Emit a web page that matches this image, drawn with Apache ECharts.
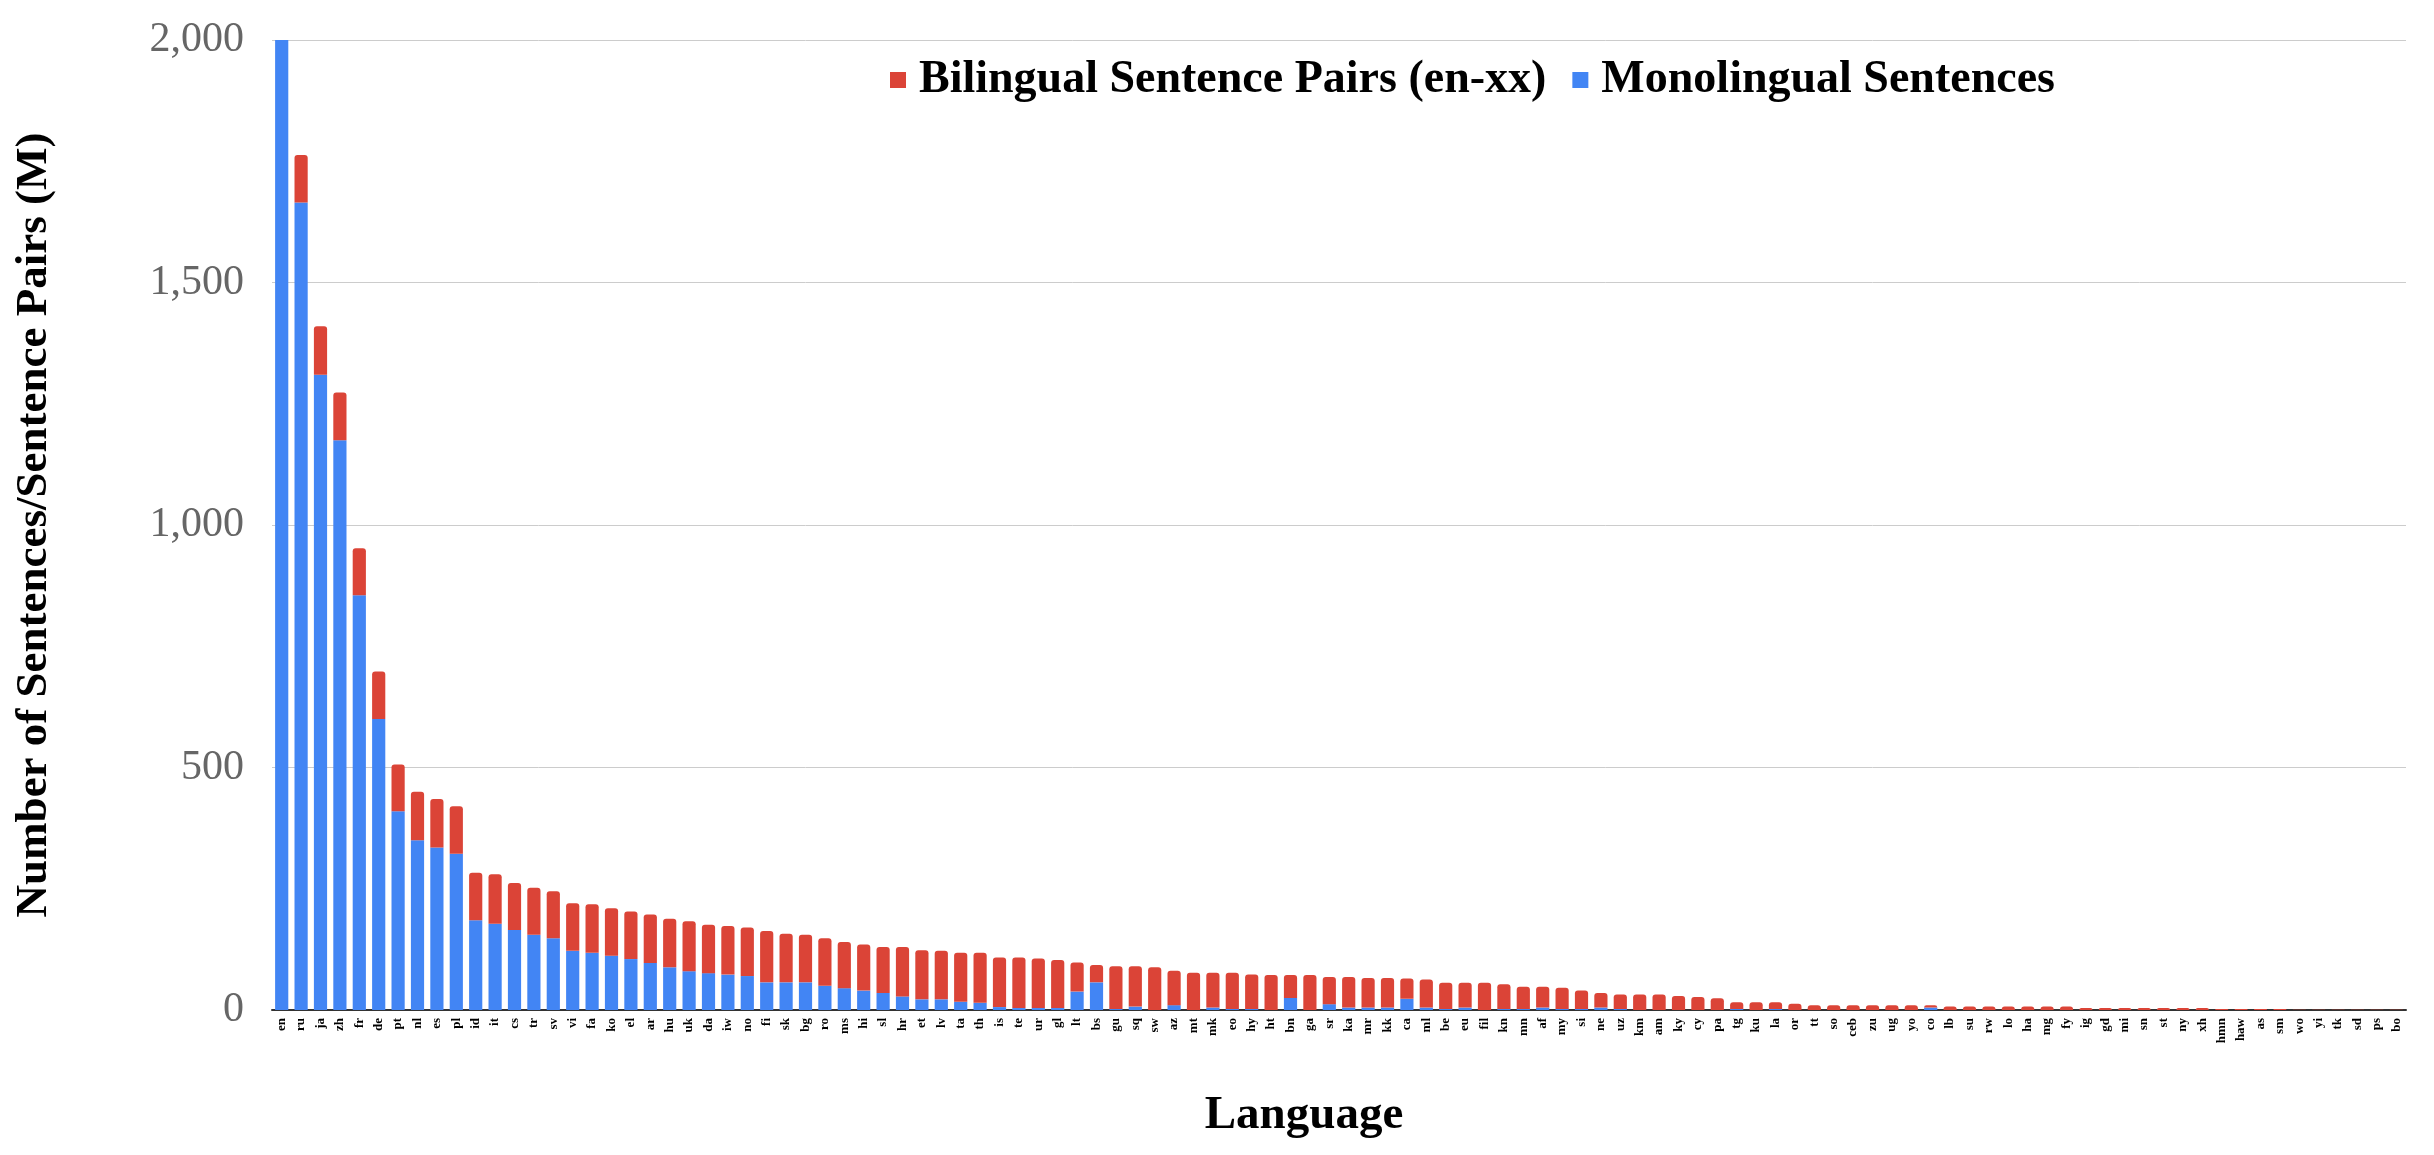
<!DOCTYPE html>
<html><head><meta charset="utf-8">
<script src="https://cdn.jsdelivr.net/npm/echarts@6/dist/echarts.min.js"></script>
<style>html,body{margin:0;padding:0;background:#fff}#c{width:2434px;height:1155px}</style>
</head><body><div id="c"></div>
<script>
const languages = ["en","ru","ja","zh","fr","de","pt","nl","es","pl","id","it","cs","tr","sv","vi","fa","ko","el","ar","hu","uk","da","iw","no","fi","sk","bg","ro","ms","hi","sl","hr","et","lv","ta","th","is","te","ur","gl","lt","bs","gu","sq","sw","az","mt","mk","eo","hy","ht","bn","ga","sr","ka","mr","kk","ca","ml","be","eu","fil","kn","mn","af","my","si","ne","uz","km","am","ky","cy","pa","tg","ku","la","or","tt","so","ceb","zu","ug","yo","co","lb","su","rw","lo","ha","mg","fy","ig","gd","mi","sn","st","ny","xh","hmn","haw","as","sm","wo","yi","tk","sd","ps","bo"];
const totals = [2060,1763,1410,1273,952,698,506,450,435,420,283,280,262,252,245,220,218,210,203,197,188,183,176,173,170,163,157,155,148,140,135,130,130,123,122,118,118,108,108,106,103,98,93,90,90,88,81,77,77,77,73,72,72,72,68,68,66,66,65,63,56,56,56,53,48,48,46,40,35,32,32,32,29,27,24,16,16,16,13,10,10,10,10,10,10,10,7,7,7,7,7,7,7,4,4,4,4,4,4,4,2,2,2,2,0.5,0.5,0.5,0.5,0.5,0.5];
const monolingual = [2000,1665,1310,1175,855,600,410,350,335,322,185,178,165,155,148,122,118,112,105,97,88,80,76,73,70,57,57,57,50,45,40,35,28,22,22,17,15,6,4,4,4,38,57,2,7,0,10,0,5,2,2,0,25,0,12,5,5,5,23,5,2,5,0,2,2,5,2,2,5,2,0,0,0,0,0,2,0,2,0,0,0,0,0,0,0,5,0,0,0,0,0,0,0,0,0,0,0,0,0,0,0,0,0,0,0,0,0,0,0,0];
const bilingual = totals.map((t,i)=>Math.max(t-monolingual[i],0));
const yTicks = [0,500,1000,1500,2000];
const serif = "Liberation Serif";
const chart = echarts.init(document.getElementById('c'));
chart.setOption({
  animation:false,
  grid:{left:272,right:28,top:40,bottom:145},
  legend:{top:52,left:885,itemWidth:16,itemHeight:16,itemGap:26,icon:'rect',
    textStyle:{fontFamily:serif,fontWeight:'bold',fontSize:46,color:'#000',padding:[0,0,0,8]},
    data:['Bilingual Sentence Pairs (en-xx)','Monolingual Sentences']},
  xAxis:{type:'category',data:languages,name:'Language',nameLocation:'middle',nameGap:82,
    nameTextStyle:{fontFamily:serif,fontWeight:'bold',fontSize:47,color:'#000',padding:[0,70,0,0]},
    axisTick:{show:false},axisLine:{lineStyle:{color:'#333',width:2}},
    axisLabel:{rotate:90,interval:0,fontFamily:serif,fontWeight:'bold',fontSize:13,color:'#000',margin:8}},
  yAxis:{type:'value',min:0,max:2000,interval:500,name:'Number of Sentences/Sentence Pairs (M)',
    nameLocation:'middle',nameGap:215,
    nameTextStyle:{fontFamily:serif,fontWeight:'bold',fontSize:45,color:'#000'},
    axisLabel:{fontFamily:serif,fontSize:42,color:'#666',margin:28,
      formatter:v=>yTicks.includes(v)?v.toLocaleString('en-US'):''},
    splitLine:{lineStyle:{color:'#ccc'}},axisLine:{show:false},axisTick:{show:false}},
  series:[
    {name:'Monolingual Sentences',type:'bar',stack:'s',data:monolingual,itemStyle:{color:'#4285F4'},barCategoryGap:'32%'},
    {name:'Bilingual Sentence Pairs (en-xx)',type:'bar',stack:'s',data:bilingual,itemStyle:{color:'#DB4437',borderRadius:[3,3,0,0]}}
  ]
});
</script></body></html>
